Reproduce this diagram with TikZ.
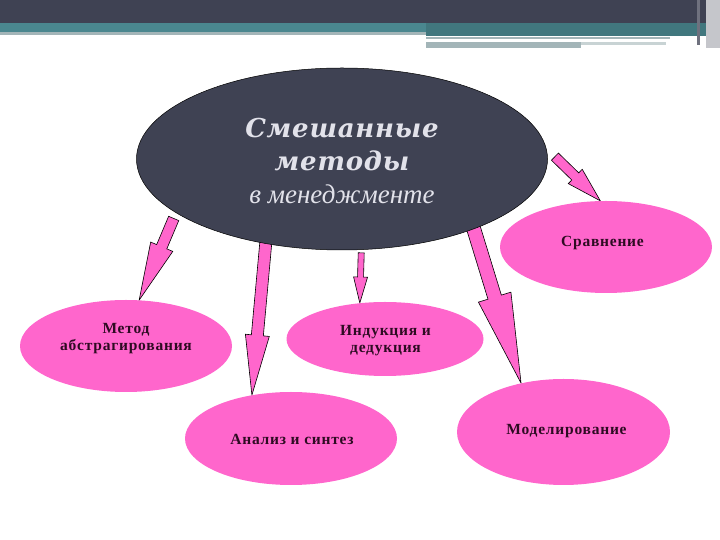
\documentclass[tikz,border=0pt]{standalone}
\usepackage{fontspec}
\setmainfont{Liberation Serif}
\newfontfamily\titlefont{DejaVu Serif}[LetterSpace=3]
\newfontfamily\ovalfont{Liberation Serif}[LetterSpace=5]
\usetikzlibrary{shapes.geometric}
\usetikzlibrary{calc}
\usetikzlibrary{backgrounds}
\definecolor{slate}{HTML}{3F4253}
\definecolor{bandteal}{HTML}{4A878F}
\definecolor{bandgrey}{HTML}{A3B5B8}
\definecolor{rose}{HTML}{FF66CC}
\definecolor{ink}{HTML}{2E0B22}
\definecolor{pale}{HTML}{E2E2EA}
\tikzset{
    oval/.style={
        ellipse,
        fill=rose,
        inner sep=0pt,
        minimum width=212pt,
        minimum height=#1
    },
    oval/.default=92pt,
    ovaltext/.style={
        align=center,
        text=ink,
        font=\ovalfont\bfseries\fontsize{15.5}{17}\selectfont
    },
    barrow/.style={
        fill=rose,
        draw=black,
        line width=0.6pt
    }
}
% start, tip, shaft half width, head half width, head length
\newcommand{\blockArrow}[5] {
	\path #1 coordinate (ba-s) #2 coordinate (ba-e);
	\path ($(ba-e)!#5!(ba-s)$) coordinate (ba-h);
	\draw[barrow] ($(ba-s)!#3!90:(ba-e)$) -- ($(ba-h)!#3!90:(ba-e)$)
		-- ($(ba-h)!#4!90:(ba-e)$) -- (ba-e)
		-- ($(ba-h)!#4!-90:(ba-e)$) -- ($(ba-h)!#3!-90:(ba-e)$)
		-- ($(ba-s)!#3!-90:(ba-e)$) -- cycle;
}

\begin{document}
\begin{tikzpicture}[x=1pt,y=1pt]
		\useasboundingbox (0,0) rectangle (720,540);

		% header
		\fill [slate] (0,517) rectangle (720,540);
		\fill [bandteal] (0,508) rectangle (426,517);
		\fill [bandgrey] (0,505) rectangle (426,508);
		\fill [bandteal!88!black] (426,504) rectangle (706,517);
		\fill [bandgrey] (426,500.7) rectangle (670,503.3);
		\fill [bandgrey] (426,492) rectangle (581,498.3);
		\fill [bandgrey!60] (581,495) rectangle (666,498.3);
		\fill [slate!75] (697,495) rectangle (700,540);
		\fill [slate!30] (706,492) rectangle (720,540);

		% centre
		\node[ellipse, fill=slate, draw=black, line width=0.5pt, inner sep=0pt,
			minimum width=411pt, minimum height=182pt] (main) at (342,381) {};
		\node[text=pale, align=center, font=\titlefont\bfseries\itshape\fontsize{26}{33}\selectfont]
			(main-t) at (342,379) {Смешанные\\методы\\\rmfamily\mdseries\itshape\fontsize{27}{33}\selectfont в менеджменте};

		% methods
		\node[oval] (sravn) at (606,293) {};
		\node[ovaltext] (sravn-t) at ($(sravn)+(-3.5,3.9)$) {Сравнение};

		\node[oval] (metod) at (126,194) {};
		\node[ovaltext] (metod-t) at ($(metod)+(0,7.6)$) {Метод\\абстрагирования};

		\node[oval=74pt, minimum width=197pt] (indukt) at (385,201) {};
		\node[ovaltext] (indukt-t) at ($(indukt)+(0.5,-2)$) {Индукция и\\дедукция};

		\node[oval=93pt] (analiz) at (291,101.5) {};
		\node[ovaltext] (analiz-t) at ($(analiz)+(1,-1)$) {Анализ и синтез};

		\node[oval=106pt, minimum width=213pt] (model) at (563.5,108) {};
		\node[ovaltext] (model-t) at ($(model)+(3,1)$) {Моделирование};

		% arrows
		\begin{pgfonlayer}{background}
			\blockArrow{($(main.198)!6pt!(metod.74)$)}{(metod.74)}{5.5pt}{12pt}{58pt}
			\blockArrow{($(main.228)!-6pt!(analiz.132)$)}{(analiz.132)}{6pt}{12pt}{60pt}
			\blockArrow{($(main.282)!3pt!(indukt.125)$)}{(indukt.125)}{3pt}{7pt}{26pt}
			\blockArrow{($(main.332)!-6pt!(model.131)$)}{(model.131)}{7pt}{17pt}{90pt}
			\blockArrow{($(main.3)!12pt!(sravn.97)$)}{(sravn.97)}{5pt}{10pt}{35pt}
		\end{pgfonlayer}

	\end{tikzpicture}
\end{document}
